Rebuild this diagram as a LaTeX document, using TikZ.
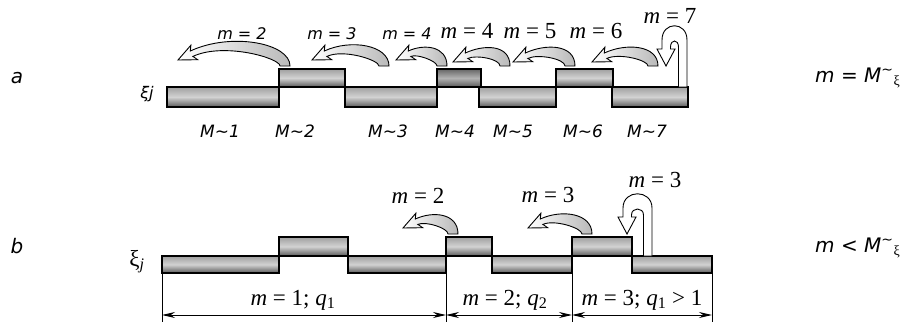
\documentclass[tikz,border=0pt]{standalone}
\usepackage{fontspec}
\setmainfont{Liberation Serif}
\newfontfamily\sansit{DejaVu Sans}
\usepackage{tikz}
\usetikzlibrary{arrows.meta, calc}

% curved block arrow: tip x, tip y, tail x, tail y, peak y
\newcommand{\bendarrow}[5]{%
  \pgfmathsetmacro\kA{1.0*(#4-#5)}
  \pgfmathsetmacro\kB{0.45*(#3-#1-12)}
  \pgfmathsetmacro\kC{\kA-15}
  \pgfmathsetmacro\kD{\kB-11}
  \draw[band] (#3,#4) .. controls (#3,#4-\kA) and (#1+12.3+0.906*\kB,#2-9-0.423*\kB) .. (#1+12.3,#2-9)
    -- (#1+12.9,#2-14.8) -- (#1,#2) -- (#1+19.7,#2-0.3) -- (#1+14.9,#2-3.6)
    .. controls (#1+14.9+0.906*\kD,#2-3.6-0.423*\kD) and (#3-10,#4-\kC) .. (#3-10,#4) -- cycle;
}
% loop arrow: right x, bottom y, top y, width
\newcommand{\looparrow}[4]{%
  \draw[loopband] (#1,#2) -- (#1,#3+15) .. controls (#1,#3-4) and (#1-#4,#3-4) .. (#1-#4,#3+15)
    -- (#1-#4,#3+24) -- (#1-#4-5,#3+24) -- (#1-#4+4,#3+41) -- (#1-#4+13,#3+24)
    -- (#1-#4+8.5,#3+24) -- (#1-#4+8.5,#3+22) .. controls (#1-#4+8.5,#3+14) and (#1-8.5,#3+14) .. (#1-8.5,#3+22)
    -- (#1-8.5,#2) -- cycle;
}

\tikzset{
  bar/.style={draw=black, line width=1.2pt, top color=gray!75, bottom color=gray!70!black, middle color=gray!35},
  darkbar/.style={draw=black, line width=1.2pt, top color=gray!80!black, bottom color=gray!70!black, middle color=gray!60},
  band/.style={draw=black, line width=0.9pt, left color=white, right color=gray!55},
  loopband/.style={draw=black, line width=0.9pt, fill=white},
  slab/.style={font=\sansit\itshape\fontsize{16}{18}\selectfont, inner sep=0pt, anchor=base},
  tlab/.style={font=\sansit\itshape\fontsize{20}{22}\selectfont, inner sep=0pt, anchor=base},
  rlab/.style={font=\fontsize{23}{25}\selectfont, inner sep=0pt, anchor=base},
  dim/.style={{Stealth[length=13pt,width=6pt]}-{Stealth[length=13pt,width=6pt]}, line width=0.9pt},
}

\begin{document}
\begin{tikzpicture}[x=1pt, y=-1pt]
\useasboundingbox (0,0) rectangle (916,325);

%% (a)
\node[tlab] (ta) at (17,83) {a};
\node[slab] (xia) at (147,98) {ξj};
\foreach \xa/\xb in {167/279, 345/437, 479/556, 612/688}
  \shadedraw[bar] (\xa,87) rectangle (\xb,107);
\foreach \xa/\xb in {279/345, 556/613}
  \shadedraw[bar] (\xa,69) rectangle (\xb,87);
\shadedraw[darkbar] (437,69) rectangle (481,87);
\coordinate (a0) at (167,87);
\coordinate (a1) at (688,87);
\draw[line width=2.5pt] (a0) -- (a1);
\foreach \x/\k in {220/1, 295/2, 388/3, 455/4, 513/5, 583/6, 647/7}
  \node[slab, font=\sansit\itshape\fontsize{17}{19}\selectfont] (M\k) at (\x,137) {M\textasciitilde\k};

\bendarrow{178}{60}{290}{66}{43}
\bendarrow{312}{60}{389}{66}{45}
\bendarrow{396}{60}{447}{66}{46}
\bendarrow{453}{62}{510}{66}{44}
\bendarrow{513}{62}{575}{66}{44}
\bendarrow{592}{62}{658}{66}{45}
\looparrow{687}{87}{25}{25}

\node[slab] (la2) at (242,39) {m = 2};
\node[slab] (la3) at (332,39) {m = 3};
\node[slab] (la4) at (407,39) {m = 4};
\node[rlab] (lb4) at (467,38) {\textit{m} = 4};
\node[rlab] (lb5) at (530,38) {\textit{m} = 5};
\node[rlab] (lb6) at (596,38) {\textit{m} = 6};
\node[rlab] (lb7) at (670,23) {\textit{m} = 7};
\node[tlab, anchor=base west] (ra) at (815,82) {m = M\textsuperscript{\textasciitilde}\textsubscript{\normalfont ξ}};

%% (b)
\node[tlab] (tb) at (17,253) {b};
\node[rlab] (xib) at (137,266) {ξ\textsubscript{\textit{j}}};
\foreach \xa/\xb in {162/279, 348/446, 492/572, 632/712}
  \shadedraw[bar] (\xa,256) rectangle (\xb,273);
\foreach \xa/\xb in {279/348, 446/492, 572/632}
  \shadedraw[bar] (\xa,237) rectangle (\xb,256);
\coordinate (b0) at (162,256);
\coordinate (b1) at (712,256);
\draw[line width=2.5pt] (b0) -- (b1);

\bendarrow{403}{228}{458}{234}{213}
\bendarrow{528}{228}{592}{234}{213}
\looparrow{652}{256}{193}{29}

\node[rlab] (lc2) at (418,203) {\textit{m} = 2};
\node[rlab] (lc3) at (548,202) {\textit{m} = 3};
\node[rlab] (lc4) at (655,187) {\textit{m} = 3};
\node[tlab, anchor=base west] (rb) at (815,252) {m < M\textsuperscript{\textasciitilde}\textsubscript{\normalfont ξ}};

% dimension lines
\foreach \x/\y [count=\i from 0] in {162/273, 446/256, 572/256, 712/273} {
  \coordinate (e\i) at (\x,\y);
  \coordinate (d\i) at (\x,315);
  \draw[line width=0.8pt] (e\i) -- ($(d\i)+(0,7)$);
}
\draw[dim] (d0) -- (d1);
\draw[dim] (d1) -- (d2);
\draw[dim] (d2) -- (d3);
\node[rlab] (q1) at (293,305) {\textit{m} = 1; \textit{q}\textsubscript{1}};
\node[rlab] (q2) at (505,305) {\textit{m} = 2; \textit{q}\textsubscript{2}};
\node[rlab] (q3) at (642,305) {\textit{m} = 3; \textit{q}\textsubscript{1} > 1};
\end{tikzpicture}
\end{document}
